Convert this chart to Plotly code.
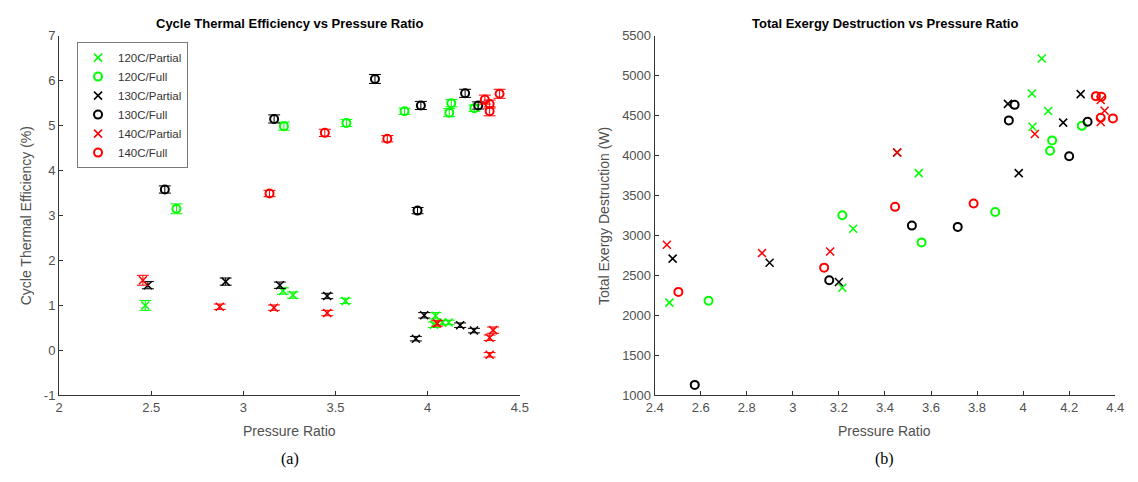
import plotly.graph_objects as go

# The page body has an 8px default margin, so the figure is drawn 8px in/down.
OFF = 8
W, H = 1138 - OFF, 482 - OFF

# ---------------- Data: (a) Cycle thermal efficiency ----------------
eff_120_partial_pr = [2.468, 3.215, 3.269, 3.554, 4.043, 4.034, 4.114, 4.08]
eff_120_partial = [1.00, 1.32, 1.23, 1.10, 0.77, 0.57, 0.62, 0.62]
eff_120_partial_err = [0.11, 0.07, 0.07, 0.06, 0.07, 0.06, 0.05, 0.05]

eff_120_full_pr = [2.637, 3.22, 3.559, 3.874, 4.117, 4.128, 4.253]
eff_120_full = [3.15, 4.99, 5.06, 5.32, 5.29, 5.50, 5.39]
eff_120_full_err = [0.11, 0.09, 0.08, 0.07, 0.09, 0.08, 0.07]

eff_130_partial_pr = [2.482, 2.904, 3.198, 3.455, 3.936, 3.981, 4.176, 4.251]
eff_130_partial = [1.45, 1.53, 1.45, 1.21, 0.26, 0.78, 0.56, 0.44]
eff_130_partial_err = [0.08, 0.08, 0.07, 0.06, 0.05, 0.06, 0.05, 0.05]

eff_130_full_pr = [2.574, 3.167, 3.714, 3.945, 3.963, 4.203, 4.274]
eff_130_full = [3.58, 5.15, 6.04, 3.11, 5.45, 5.72, 5.45]
eff_130_full_err = [0.08, 0.09, 0.10, 0.07, 0.09, 0.09, 0.08]

eff_140_partial_pr = [2.455, 2.872, 3.166, 3.455, 4.052, 4.355, 4.336, 4.336]
eff_140_partial = [1.56, 0.97, 0.95, 0.83, 0.60, 0.45, 0.28, -0.10]
eff_140_partial_err = [0.11, 0.06, 0.06, 0.06, 0.06, 0.07, 0.06, 0.05]

eff_140_full_pr = [3.142, 3.442, 3.781, 4.31, 4.336, 4.336, 4.39]
eff_140_full = [3.49, 4.84, 4.71, 5.58, 5.48, 5.32, 5.71]
eff_140_full_err = [0.07, 0.08, 0.07, 0.10, 0.09, 0.10, 0.10]

# ---------------- Data: (b) Total exergy destruction ----------------
exd_120_partial_pr = [2.464, 3.215, 3.262, 3.547, 4.038, 4.041, 4.081, 4.109]
exd_120_partial = [2160, 2346, 3084, 3781, 4778, 4361, 5216, 4559]

exd_120_full_pr = [2.634, 3.215, 3.559, 3.879, 4.117, 4.126, 4.255]
exd_120_full = [2184, 3254, 2914, 3295, 4061, 4191, 4373]

exd_130_partial_pr = [2.478, 2.899, 3.2, 3.453, 3.934, 3.981, 4.174, 4.25]
exd_130_partial = [2711, 2659, 2419, 4040, 4648, 3781, 4413, 4770]

exd_130_full_pr = [2.574, 3.158, 3.517, 3.716, 3.938, 3.963, 4.2, 4.28]
exd_130_full = [1130, 2440, 3124, 3108, 4441, 4636, 3992, 4425]

exd_140_partial_pr = [2.453, 2.866, 3.162, 3.453, 4.051, 4.337, 4.354, 4.337]
exd_140_partial = [2885, 2780, 2800, 4040, 4271, 4697, 4563, 4422]

exd_140_full_pr = [2.503, 3.136, 3.444, 3.785, 4.316, 4.34, 4.337, 4.39]
exd_140_full = [2294, 2598, 3359, 3400, 4745, 4738, 4474, 4466]

series_names = ["120C/Partial", "120C/Full", "130C/Partial", "130C/Full", "140C/Partial", "140C/Full"]
series_colors = ["#00FF00", "#00FF00", "#000000", "#000000", "#FF0000", "#FF0000"]
series_partial = [True, False, True, False, True, False]

left_x_ticks = [2, 2.5, 3, 3.5, 4, 4.5]
left_y_ticks = [-1, 0, 1, 2, 3, 4, 5, 6, 7]
right_x_ticks = [2.4, 2.6, 2.8, 3, 3.2, 3.4, 3.6, 3.8, 4, 4.2, 4.4]
right_y_ticks = [1000, 1500, 2000, 2500, 3000, 3500, 4000, 4500, 5000, 5500]

eff_sets = [
    (eff_120_partial_pr, eff_120_partial, eff_120_partial_err),
    (eff_120_full_pr, eff_120_full, eff_120_full_err),
    (eff_130_partial_pr, eff_130_partial, eff_130_partial_err),
    (eff_130_full_pr, eff_130_full, eff_130_full_err),
    (eff_140_partial_pr, eff_140_partial, eff_140_partial_err),
    (eff_140_full_pr, eff_140_full, eff_140_full_err),
]
exd_sets = [
    (exd_120_partial_pr, exd_120_partial),
    (exd_120_full_pr, exd_120_full),
    (exd_130_partial_pr, exd_130_partial),
    (exd_130_full_pr, exd_130_full),
    (exd_140_partial_pr, exd_140_partial),
    (exd_140_full_pr, exd_140_full),
]


def marker_for(color, partial):
    if partial:
        return dict(symbol="x-thin-open", size=8, color=color, line=dict(color=color, width=1.5))
    return dict(symbol="circle-open", size=8, color=color, line=dict(color=color, width=2))


fig = go.Figure()

for (px_, py_, pe_), name, color, partial in zip(eff_sets, series_names, series_colors, series_partial):
    fig.add_trace(go.Scatter(
        x=px_, y=py_, mode="markers", name=name,
        marker=marker_for(color, partial),
        error_y=dict(type="data", array=pe_, visible=True, color=color, thickness=1, width=6),
        xaxis="x", yaxis="y", cliponaxis=False, showlegend=True,
    ))

for (px_, py_), name, color, partial in zip(exd_sets, series_names, series_colors, series_partial):
    fig.add_trace(go.Scatter(
        x=px_, y=py_, mode="markers", name=name,
        marker=marker_for(color, partial),
        xaxis="x2", yaxis="y2", cliponaxis=False, showlegend=False,
    ))

FONT = "Liberation Sans, Arial, sans-serif"
TICKFONT = dict(family=FONT, size=13, color="#505050")


def px2x(p):
    return (p - OFF) / W


def py2y(p):
    return 1 - (p - OFF) / H


axis_common = dict(
    showline=True, linecolor="#333333", linewidth=1, mirror=False,
    ticks="inside", ticklen=4, tickcolor="#333333", tickwidth=1,
    showgrid=False, zeroline=False, tickfont=TICKFONT,
)

y_dom = [py2y(400.7), py2y(29.5)]

fig.update_layout(
    width=W, height=H,
    margin=dict(l=0, r=0, t=0, b=0),
    paper_bgcolor="white", plot_bgcolor="white",
    xaxis=dict(domain=[px2x(50.7), px2x(519)], range=[2, 4.5], tickvals=left_x_ticks,
               ticktext=[f"{v:g}" for v in left_x_ticks], anchor="y", **axis_common),
    yaxis=dict(domain=y_dom, range=[-1, 7], tickvals=left_y_ticks,
               ticktext=[f"{v:g}" for v in left_y_ticks], anchor="x", **axis_common),
    xaxis2=dict(domain=[px2x(656), px2x(1124)], range=[2.4, 4.4], tickvals=right_x_ticks,
                ticktext=[f"{v:g}" for v in right_x_ticks], anchor="y2", **axis_common),
    yaxis2=dict(domain=y_dom, range=[1000, 5500], tickvals=right_y_ticks,
                ticktext=[f"{v:g}" for v in right_y_ticks], anchor="x2", **axis_common),
    legend=dict(
        x=px2x(69), y=py2y(36), xanchor="left", yanchor="top",
        bgcolor="white", bordercolor="#7a7a7a", borderwidth=1,
        font=dict(family=FONT, size=11.5, color="#333333"),
        itemwidth=30, tracegroupgap=0,
    ),
    showlegend=True,
)

annotations = [
    dict(text="<b>Cycle Thermal Efficiency vs Pressure Ratio</b>", x=px2x(285), y=py2y(17),
         font=dict(family=FONT, size=13, color="#000000")),
    dict(text="<b>Total Exergy Destruction vs Pressure Ratio</b>", x=px2x(890), y=py2y(17),
         font=dict(family=FONT, size=13, color="#000000")),
    dict(text="Pressure Ratio", x=px2x(285), y=py2y(438),
         font=dict(family=FONT, size=14, color="#505050")),
    dict(text="Pressure Ratio", x=px2x(890), y=py2y(438),
         font=dict(family=FONT, size=14, color="#505050")),
    dict(text="Cycle Thermal Efficiency (%)", x=px2x(18), y=py2y(215), textangle=-90,
         font=dict(family=FONT, size=14, color="#505050")),
    dict(text="Total Exergy Destruction (W)", x=px2x(605), y=py2y(215), textangle=-90,
         font=dict(family=FONT, size=14, color="#505050")),
    dict(text="(a)", x=px2x(285), y=py2y(466),
         font=dict(family="Liberation Serif, Times New Roman, serif", size=16, color="#000000")),
    dict(text="(b)", x=px2x(890), y=py2y(466),
         font=dict(family="Liberation Serif, Times New Roman, serif", size=16, color="#000000")),
]
for a in annotations:
    a.update(xref="paper", yref="paper", showarrow=False, xanchor="center", yanchor="middle")
fig.update_layout(annotations=annotations)

fig.write_html("out.html")
